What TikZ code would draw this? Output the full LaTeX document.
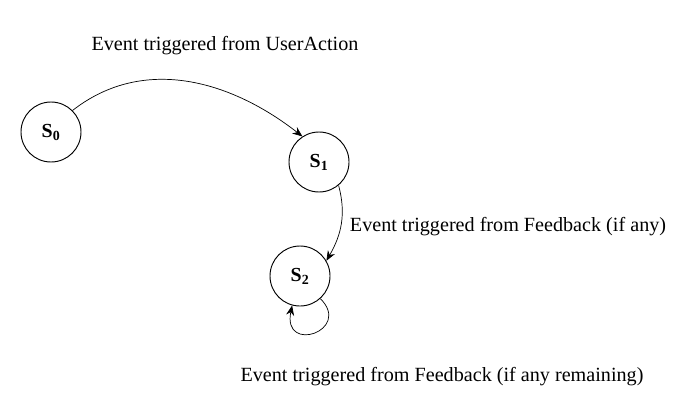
\documentclass[tikz,border=0pt]{standalone}
\usepackage{fontspec}
\setmainfont{Liberation Serif}
\usepackage{tikz}
\usetikzlibrary{arrows.meta}

\begin{document}
\begin{tikzpicture}[
  x=0.03cm, y=-0.03cm,
  state/.style={draw=black, circle, thick, minimum size=1.8cm, inner sep=0pt,
    font=\fontsize{17}{20}\selectfont\bfseries},
  trans/.style={-{Stealth[length=3mm, width=2.4mm]}, semithick, draw=black},
  evlabel/.style={font=\fontsize{17.2}{20}\selectfont, inner sep=0pt}
]
  \useasboundingbox (0,0) rectangle (683,417);

  % States — pixel positions of the reference
  \node[state] (s0) at ( 51,132) {S\textsubscript{0}};
  \node[state] (s1) at (319,162) {S\textsubscript{1}};
  \node[state] (s2) at (300,276) {S\textsubscript{2}};

  % Transitions
  \draw[trans] (s0.45) to[out=38, in=142] (s1.123);
  \draw[trans] (s1.-50) to[out=-75, in=60] (s2.30);
  \draw[trans] (s2.-48) .. controls +(32,32) and +(-10,49) .. (s2.-105);

  % Event labels
  \node[evlabel] (lbluser) at (225,46)  {Event triggered from UserAction};
  \node[evlabel] (lblfb)   at (508,227) {Event triggered from Feedback (if any)};
  \node[evlabel] (lblrem)  at (442,377) {Event triggered from Feedback (if any remaining)};

\end{tikzpicture}
\end{document}
